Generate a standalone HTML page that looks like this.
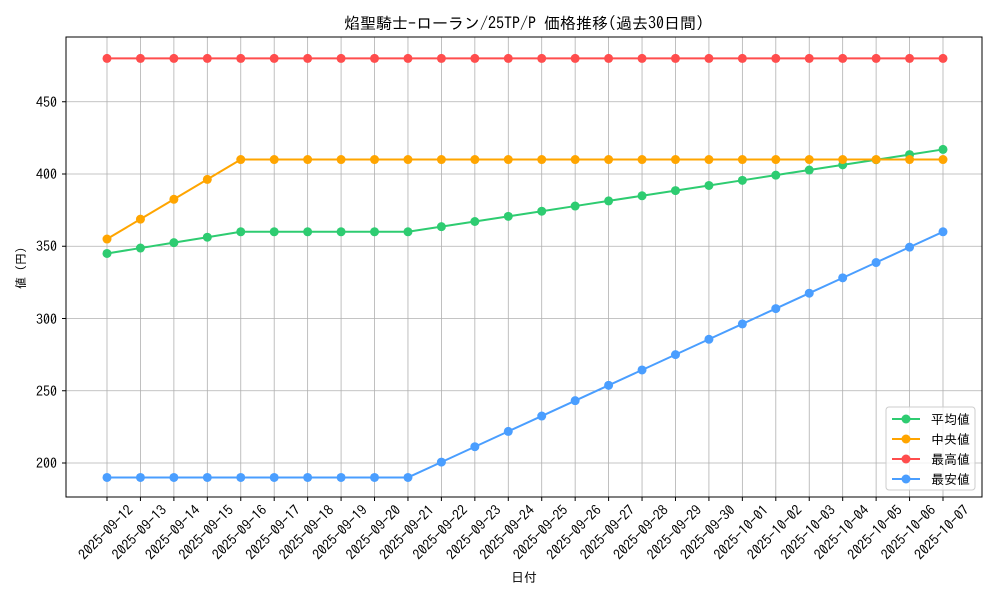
<!DOCTYPE html>
<html><head><meta charset="utf-8"><style>
body{margin:0;background:#fff}
svg{display:block;font-family:"IPAGothic","Liberation Sans","Noto Sans CJK JP",sans-serif}
</style></head><body>
<svg id="s" width="1000" height="600" viewBox="0 0 1000 600" xmlns="http://www.w3.org/2000/svg">
<rect width="1000" height="600" fill="#fff"/>
<g id="grid" stroke="#b0b0b0" stroke-width="0.8"></g>
<g id="series"></g>
<rect x="66" y="37" width="916" height="460" fill="none" stroke="#000" stroke-width="1"/>
<g id="ticks" stroke="#000" stroke-width="1"></g>
<text x="524" y="29" font-size="16" text-anchor="middle">焰聖騎士-ローラン/25TP/P 価格推移(過去30日間)</text>
<g font-size="14" text-anchor="end">
<text x="81" y="107" text-anchor="end" transform="translate(-24,0)">450</text><text x="57" y="179">400</text><text x="57" y="251">350</text>
<text x="57" y="324">300</text><text x="57" y="396">250</text><text x="57" y="468">200</text>
</g>
<text transform="translate(25,268) rotate(-90)" font-size="12" text-anchor="middle">値 (円)</text>
<text x="524" y="582" font-size="13" text-anchor="middle">日付</text>
<g id="xl" font-size="14" text-anchor="end"></g>
<g>
<rect x="886" y="407" width="89" height="83" fill="#fff" fill-opacity="0.8" stroke="#ccc" rx="3"/>
<g font-size="13">
<line x1="892" y1="419" x2="920" y2="419" stroke="#2ecc71" stroke-width="2"/><circle cx="906" cy="419" r="4.5" fill="#2ecc71"/><text x="931" y="424">平均値</text>
<line x1="892" y1="439" x2="920" y2="439" stroke="#ffa500" stroke-width="2"/><circle cx="906" cy="439" r="4.5" fill="#ffa500"/><text x="931" y="444">中央値</text>
<line x1="892" y1="459" x2="920" y2="459" stroke="#ff4d4d" stroke-width="2"/><circle cx="906" cy="459" r="4.5" fill="#ff4d4d"/><text x="931" y="464">最高値</text>
<line x1="892" y1="479" x2="920" y2="479" stroke="#4a9eff" stroke-width="2"/><circle cx="906" cy="479" r="4.5" fill="#4a9eff"/><text x="931" y="484">最安値</text>
</g></g>
</svg>
<svg width="0" height="0" style="position:absolute">
<text>2025-09-12 2025-09-13 2025-09-14 2025-09-15 2025-09-16 2025-09-17 2025-09-18 2025-09-19 2025-09-20 2025-09-21 2025-09-22 2025-09-23 2025-09-24 2025-09-25 2025-09-26 2025-09-27 2025-09-28 2025-09-29 2025-09-30 2025-10-01 2025-10-02 2025-10-03 2025-10-04 2025-10-05 2025-10-06 2025-10-07</text>
</svg>
<script>
var NS="http://www.w3.org/2000/svg";
function el(p,t,a,txt){var e=document.createElementNS(NS,t);for(var k in a)e.setAttribute(k,a[k]);if(txt)e.textContent=txt;p.appendChild(e);return e;}
var X=function(i){return 107+33.44*i}, Y=function(v){return 174+(400-v)*1.445};
var dates=["09-12","09-13","09-14","09-15","09-16","09-17","09-18","09-19","09-20","09-21","09-22","09-23","09-24","09-25","09-26","09-27","09-28","09-29","09-30","10-01","10-02","10-03","10-04","10-05","10-06","10-07"];
var g=document.getElementById("grid"),tk=document.getElementById("ticks"),xl=document.getElementById("xl");
for(var i=0;i<26;i++){var x=X(i);el(g,"line",{x1:x,y1:37,x2:x,y2:497});el(tk,"line",{x1:x,y1:497,x2:x,y2:501});
 el(xl,"text",{transform:"translate("+(x+27)+",511) rotate(-45)"},"2025-"+dates[i]);}
[450,400,350,300,250,200].forEach(function(v){var y=Y(v);el(g,"line",{x1:66,y1:y,x2:982,y2:y});el(tk,"line",{x1:62,y1:y,x2:66,y2:y});});
var avg=[],med=[],mx=[],mn=[];
for(var i=0;i<26;i++){
 avg.push(i<4?345+3.75*i:(i<=9?360:360+(i-9)*3.5625));
 med.push(i<4?355+13.75*i:410);
 mx.push(480);
 mn.push(i<=9?190:190+(i-9)*10.625);
}
var sg=document.getElementById("series");
[[avg,"#2ecc71"],[med,"#ffa500"],[mx,"#ff4d4d"],[mn,"#4a9eff"]].forEach(function(s){
 var pts=s[0].map(function(v,i){return X(i)+","+Y(v)}).join(" ");
 el(sg,"polyline",{points:pts,fill:"none",stroke:s[1],"stroke-width":2});
 s[0].forEach(function(v,i){el(sg,"circle",{cx:X(i),cy:Y(v),r:4.5,fill:s[1]});});
});
</script>
</body></html>
